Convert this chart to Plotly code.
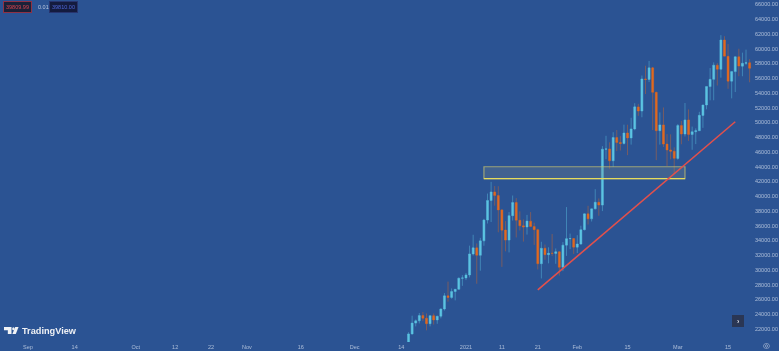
import plotly.graph_objects as go

dates = ["2020-12-16","2020-12-17","2020-12-18","2020-12-19","2020-12-20","2020-12-21","2020-12-22","2020-12-23","2020-12-24","2020-12-25","2020-12-26","2020-12-27","2020-12-28","2020-12-29","2020-12-30","2020-12-31",
"2021-01-01","2021-01-02","2021-01-03","2021-01-04","2021-01-05","2021-01-06","2021-01-07","2021-01-08","2021-01-09","2021-01-10","2021-01-11","2021-01-12","2021-01-13","2021-01-14","2021-01-15","2021-01-16","2021-01-17","2021-01-18","2021-01-19","2021-01-20","2021-01-21","2021-01-22","2021-01-23","2021-01-24","2021-01-25","2021-01-26","2021-01-27","2021-01-28","2021-01-29","2021-01-30","2021-01-31",
"2021-02-01","2021-02-02","2021-02-03","2021-02-04","2021-02-05","2021-02-06","2021-02-07","2021-02-08","2021-02-09","2021-02-10","2021-02-11","2021-02-12","2021-02-13","2021-02-14","2021-02-15","2021-02-16","2021-02-17","2021-02-18","2021-02-19","2021-02-20","2021-02-21","2021-02-22","2021-02-23","2021-02-24","2021-02-25","2021-02-26","2021-02-27","2021-02-28",
"2021-03-01","2021-03-02","2021-03-03","2021-03-04","2021-03-05","2021-03-06","2021-03-07","2021-03-08","2021-03-09","2021-03-10","2021-03-11","2021-03-12","2021-03-13","2021-03-14","2021-03-15","2021-03-16","2021-03-17","2021-03-18","2021-03-19","2021-03-20","2021-03-21"]
opens = [19426,21335,22797,23107,23821,23455,22719,23810,23232,23729,24712,26493,26281,27079,27385,28875,
28923,29331,32176,33000,31989,33949,36769,39432,40586,40088,38150,35410,34049,37371,39145,36737,35994,35824,36622,35901,35468,30851,32950,32078,32259,32251,32464,30362,33368,34246,34262,
33092,33514,35466,37618,36936,38289,39181,38795,46374,46420,44807,47968,47298,47156,48580,47911,49133,52117,51552,55906,55841,57412,54087,48891,49676,47073,46276,46103,
45134,49595,48436,50349,48374,48746,48882,50959,52375,54874,55851,57773,57221,61188,58968,55605,56900,58912,57641,58030,58100]
highs = [21560,23800,23285,24171,24295,24102,23837,24100,23794,24789,26867,28422,27500,27410,28996,29300,
29600,33300,34778,33600,34360,36939,40365,41950,41380,41350,38264,36628,37850,40100,39747,37950,36852,37469,37850,36415,35600,33826,33456,33071,34875,32921,32557,33783,38531,34933,34342,
34717,36000,37662,38708,38310,40955,39700,46794,48200,47310,48678,48985,48150,49707,49700,50641,52618,52530,56368,57700,58352,57534,54183,51374,52041,48424,48394,46638,
49790,50200,52640,51773,49448,49200,51450,52402,54900,57387,58150,58058,61844,61700,60633,56938,58974,60000,59468,59880,58589]
lows = [19278,21230,22350,22750,23060,21815,22353,22600,22703,23433,24500,25700,26101,25880,27320,27850,
28624,29000,31962,28130,29900,33288,36300,36500,38720,35111,30420,32531,32380,36701,34408,35357,33850,34800,35844,33400,30071,28850,31390,30900,31910,30837,29241,29842,31915,32825,32171,
32296,33418,35362,36161,36570,38215,37351,37988,45020,43727,43994,46125,46202,47014,45570,47003,48947,50901,50710,53863,55477,48967,44892,47002,46674,44106,45000,43000,
44950,47047,48100,47500,46300,47070,48882,49274,51789,53005,53011,55013,56078,59000,54568,53271,54123,56270,56270,57820,55450]
closes = [21335,22797,23107,23821,23455,22719,23810,23232,23729,24712,26493,26281,27079,27385,28875,28923,
29331,32178,33000,31988,33949,36769,39432,40582,40088,38150,35404,34051,37371,39144,36742,35994,35828,36631,35891,35468,30850,32945,32078,32259,32254,32467,30366,33364,34252,34262,33092,
33526,35466,37618,36936,38290,39186,38795,46374,46420,44807,47969,47287,47153,48577,47911,49133,52119,51552,55906,55841,57408,54087,48891,49676,47073,46276,46106,45135,
49587,48440,50349,48374,48751,48882,50971,52375,54884,55851,57773,57221,61188,59000,55605,56900,58912,57648,58030,58102,57351]

price_ticks = [66000,64000,62000,60000,58000,56000,54000,52000,50000,48000,46000,44000,42000,40000,38000,36000,34000,32000,30000,28000,26000,24000,22000]
date_ticks = ["2020-09-01","2020-09-14","2020-10-01","2020-10-12","2020-10-22","2020-11-01","2020-11-16","2020-12-01","2020-12-14","2021-01-01","2021-01-11","2021-01-21","2021-02-01","2021-02-15","2021-03-01","2021-03-15"]
date_labels = ["Sep","14","Oct","12","22","Nov","16","Dec","14","2021","11","21","Feb","15","Mar","15"]

zone_x = ["2021-01-06","2021-03-03"]
zone_y = [42380,44000]
trend_x = ["2021-01-21","2021-03-17"]
trend_y = [27300,50100]

BG = "#2b5393"
UP = "#5cc4e2"
DOWN = "#e2691f"
TXT = "rgba(215,225,240,0.72)"
FONT = "Liberation Sans"
PW, PH = 752, 342

def px(x):
    return x / PW

def py(y):
    return (PH - y) / PH

def path(points):
    return "M " + " L ".join(f"{px(x):.4f} {py(y):.4f}" for x, y in points) + " Z"

fig = go.Figure(go.Candlestick(
    x=dates, open=opens, high=highs, low=lows, close=closes,
    increasing=dict(line=dict(color="rgba(92,196,226,0.45)", width=1), fillcolor=UP),
    decreasing=dict(line=dict(color="rgba(226,105,31,0.42)", width=1), fillcolor=DOWN),
    whiskerwidth=0, showlegend=False,
))

fig.update_layout(
    width=779, height=351, autosize=False,
    margin=dict(l=0, r=27, t=0, b=9, pad=0),
    paper_bgcolor=BG, plot_bgcolor=BG,
    font=dict(family=FONT, size=5.5, color=TXT),
    showlegend=False,
    boxgap=0.2,
    xaxis=dict(type="date", range=["2020-08-24 05:00","2021-03-21 16:00"], rangeslider=dict(visible=False),
               tickmode="array", tickvals=date_ticks, ticktext=date_labels, showgrid=False, zeroline=False,
               ticks="", ticklen=0, showline=False, tickangle=0, tickfont=dict(size=5.5, color=TXT, family=FONT)),
    yaxis=dict(side="right", range=[20234,66611], tickmode="array", tickvals=price_ticks,
               ticktext=[f"{v:.2f}" for v in price_ticks], showgrid=False, zeroline=False, ticks="",
               showline=False, ticklabelstandoff=2, tickfont=dict(size=5.5, color=TXT, family=FONT)),
    shapes=[
        dict(type="rect", xref="x", yref="y", x0=zone_x[0], x1=zone_x[1], y0=zone_y[0], y1=zone_y[1],
             line=dict(color="rgba(200,195,110,0.7)", width=1.2), fillcolor="rgba(130,145,135,0.25)", layer="above"),
        dict(type="line", xref="x", yref="y", x0=zone_x[0], x1=zone_x[1], y0=zone_y[0], y1=zone_y[0],
             line=dict(color="#e6dc5c", width=1.3), layer="above"),
        dict(type="line", xref="x", yref="y", x0=trend_x[0], x1=trend_x[1], y0=trend_y[0], y1=trend_y[1],
             line=dict(color="#e2504c", width=1.6), layer="above"),
        dict(type="path", xref="paper", yref="paper", line=dict(width=0), fillcolor="#f0f2f5", layer="above",
             path=path([(4, 327), (11.5, 327), (11.5, 334), (7.8, 334), (7.8, 330.3), (4, 330.3)])),
        dict(type="path", xref="paper", yref="paper", line=dict(width=0), fillcolor="#f0f2f5", layer="above",
             path=path([(15.2, 327), (18.6, 327), (15.8, 334), (12.4, 334)])),
        dict(type="circle", xref="paper", yref="paper", line=dict(width=0), fillcolor="#f0f2f5", layer="above",
             x0=px(12.2), x1=px(14.6), y0=py(330.2), y1=py(327.2)),
        dict(type="rect", xref="paper", yref="paper", line=dict(width=0), fillcolor="#2a3654", layer="above",
             x0=px(732), x1=px(744), y0=py(327), y1=py(315)),
    ],
    annotations=[
        dict(xref="paper", yref="paper", x=px(3), y=py(7), xanchor="left", yanchor="middle", showarrow=False,
             text="39809.99", font=dict(size=5.5, color="#d8434d"), bgcolor="#1a2138", bordercolor="#8f3145", borderwidth=1, borderpad=2),
        dict(xref="paper", yref="paper", x=px(36), y=py(7), xanchor="left", yanchor="middle", showarrow=False,
             text="0.01", font=dict(size=5.5, color="#b9c5dc")),
        dict(xref="paper", yref="paper", x=px(49), y=py(7), xanchor="left", yanchor="middle", showarrow=False,
             text="39810.00", font=dict(size=5.5, color="#4d66d8"), bgcolor="#141b3e", bordercolor="#27346e", borderwidth=1, borderpad=2),
        dict(xref="paper", yref="paper", x=px(20), y=py(330.5), xanchor="left", yanchor="middle", showarrow=False,
             text="<b>TradingView</b>", font=dict(size=9.2, color="#eef0f4")),
        dict(xref="paper", yref="paper", x=px(738), y=py(321), xanchor="center", yanchor="middle", showarrow=False,
             text="<b>›</b>", font=dict(size=7, color="#d8dbe2")),
        dict(xref="paper", yref="paper", x=px(766), y=py(345.5), xanchor="center", yanchor="middle", showarrow=False,
             text="◎", font=dict(size=8, color="#b9c5dc", family="DejaVu Sans")),
    ],
)

fig.write_html("out.html", config=dict(displayModeBar=False),
               post_script="document.body.style.margin='0';document.documentElement.style.background='%s';document.body.style.filter='blur(0.4px)';" % BG)
